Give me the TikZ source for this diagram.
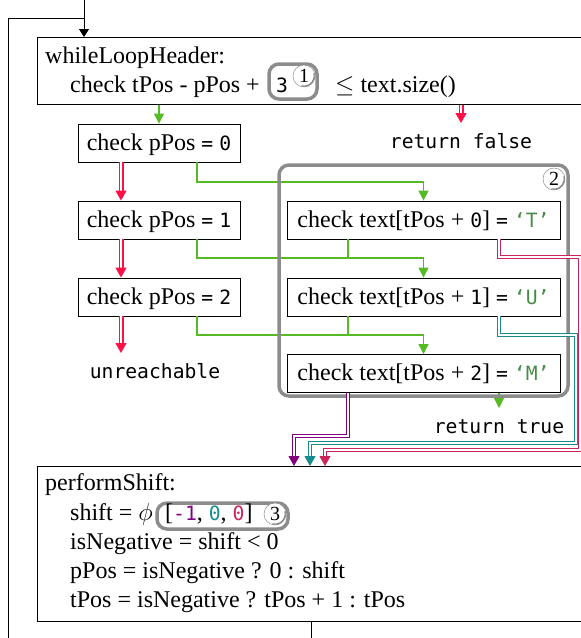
\documentclass[tikz,border=0pt]{standalone}
\usepackage{fontspec}
\setmainfont{Liberation Serif}
\newfontfamily\codefont[Scale=0.82]{DejaVu Sans Mono}
\usetikzlibrary{arrows.meta}

\definecolor{okGreen}{RGB}{86,186,36}
\definecolor{failRed}{RGB}{255,16,72}
\definecolor{failT}{RGB}{204,36,88}
\definecolor{failU}{RGB}{22,140,140}
\definecolor{failM}{RGB}{128,0,128}
\definecolor{charGreen}{RGB}{70,140,70}
\definecolor{markerGray}{RGB}{140,140,140}

\newcommand\cd[1]{{\codefont #1}}

\tikzset{
  every node/.style={font=\fontsize{24}{29}\selectfont},
  plain/.style={inner sep=0pt, anchor=base west},
  block/.style={draw, line width=0.9pt, anchor=north west, inner sep=0pt, minimum width=583pt},
  pbox/.style={draw, line width=0.9pt, minimum width=162pt, minimum height=38pt,
               text height=19pt, text depth=5pt, inner sep=0pt},
  tbox/.style={pbox, minimum width=273pt},
  term/.style={font=\fontsize{24}{29}\selectfont\codefont, text height=14pt, text depth=4pt,
               inner xsep=0pt, inner ysep=11pt, anchor=north},
  region/.style={draw=markerGray, line width=3.5pt, rounded corners=10pt},
  tag/.style={circle, draw=black!45, line width=0.5pt, fill=white, inner sep=0pt,
              minimum size=22pt, font=\fontsize{20}{20}\selectfont},
  tagshade/.style={draw=black!50, line width=1.1pt},
  okline/.style={draw=okGreen, line width=1.2pt},
  okarrow/.style={okline, -{Triangle[length=10pt, width=10pt]}},
  dbl/.style={line width=1pt, double=white, double distance=2.3pt,
              -{Triangle[length=10pt, width=11pt]}},
  faildbl/.style={dbl, draw=failRed, line width=1.2pt, double distance=2.6pt},
  flow/.style={line width=0.9pt},
}

\begin{document}
\begin{tikzpicture}[x=1pt, y=-1pt]
\useasboundingbox (0,0) rectangle (581,638);
\clip (0,0) rectangle (581,638);

% ---- loop header ----
\node[block, minimum height=67pt] (header) at (37,37) {};
\node[plain] (hTitle) at (45,63) {whileLoopHeader:};
\node[plain] (hCheck) at (70,92) {check tPos - pPos +};
\draw[region] (269,64) rectangle (317,99);
\node[plain, anchor=base] (hLen) at (282,92) {\cd{3}};
\node[tag] (tag1) at (304,76) {1};
\node[plain] (hBound) at (335,92) {$\leq$ text.size()};

% ---- pattern position checks ----
\node[pbox] (pp0) at (159,143) {check pPos \cd{=} \cd{0}};
\node[pbox] (pp1) at (159,220) {check pPos \cd{=} \cd{1}};
\node[pbox] (pp2) at (159,297) {check pPos \cd{=} \cd{2}};

% ---- text character checks ----
\node[tbox] (tx0) at (423.5,220) {check text[tPos + \cd{0}] \cd{=} \cd{\color{charGreen}‘T’}};
\node[tbox] (tx1) at (423.5,297) {check text[tPos + \cd{1}] \cd{=} \cd{\color{charGreen}‘U’}};
\node[tbox] (tx2) at (423.5,373.5) {check text[tPos + \cd{2}] \cd{=} \cd{\color{charGreen}‘M’}};

% ---- terminal results ----
\node[term] (rFalse) at (461,123) {return false};
\node[term] (unreach) at (155,353) {unreachable};
\node[term] (rTrue) at (499,408) {return true};

% ---- success edges ----
\coordinate (row1) at (0,182);
\coordinate (row2) at (0,258);
\coordinate (row3) at (0,335);
\coordinate (t0L) at ([xshift=-75.5]tx0.south);
\coordinate (t1L) at ([xshift=-75.5]tx1.south);
\coordinate (t2L) at ([xshift=-75.5]tx2.south);
\coordinate (t0R) at ([xshift=75.5]tx0.south);
\coordinate (t1R) at ([xshift=75.5]tx1.south);
\coordinate (t2R) at ([xshift=75.5]tx2.south);
\coordinate (p0T) at ([xshift=38]pp0.south);
\coordinate (p1T) at ([xshift=38]pp1.south);
\coordinate (p2T) at ([xshift=38]pp2.south);
\coordinate (p0F) at ([xshift=-38]pp0.south);
\coordinate (p1F) at ([xshift=-38]pp1.south);
\coordinate (p2F) at ([xshift=-38]pp2.south);

\draw[okarrow] (header.south -| pp0) -- (pp0.north);
\draw[okarrow] (p0T) |- (row1 -| tx0) -- (tx0.north);
\draw[okarrow] (p1T) |- (row2 -| tx1) -- (tx1.north);
\draw[okline] (t0L) -- (t0L |- row2);
\draw[okarrow] (p2T) |- (row3 -| tx2) -- (tx2.north);
\draw[okline] (t1L) -- (t1L |- row3);
\draw[okarrow] (t2R) -- (rTrue.north);

% ---- failure edges ----
\draw[faildbl] (header.south -| rFalse) -- (rFalse.north);
\draw[faildbl] (p0F) -- (p0F |- pp1.north);
\draw[faildbl] (p1F) -- (p1F |- pp2.north);
\draw[faildbl] (p2F) -- (p2F |- unreach.north);

% ---- marked region around the text checks ----
\draw[region] (279,165) rectangle (568,396);
\node[tag] (tag2) at (554,179) {2};

% ---- shift block ----
\node[block, minimum height=155pt] (shift) at (37,466) {};
\node[plain] (sTitle) at (45,490) {performShift:};
\node[plain] (sShift) at (70,520) {shift = $\phi$};
\draw[region] (157,503) rectangle (288,529);
\node[plain] (sVec) at (165,520) {[\cd{\color{failM}-1}, \cd{\color{failU}0}, \cd{\color{failT}0}]};
\node[tag] (tag3) at (275,514) {3};
\node[plain] (sNeg) at (70,549) {isNegative = shift < 0};
\node[plain] (sP) at (70,578) {pPos = isNegative ? 0 : shift};
\node[plain] (sT) at (70,607) {tPos = isNegative ? tPos + 1 : tPos};

% shading on the lower right of each numbered tag
\begin{scope}[y=1pt]
  \foreach \t in {tag1,tag2,tag3}
    \draw[tagshade] ([shift={(-105:10.2pt)}]\t.center) arc[start angle=-105, end angle=15, radius=10.2pt];
\end{scope}

% ---- mismatch edges into the shift block ----
\coordinate (inM) at (294,466);
\coordinate (inU) at (310,466);
\coordinate (inT) at (325,466);
\coordinate (railU) at (576,335);
\coordinate (railT) at (580,257);
\draw[dbl, draw=failM] (t2L) |- ([yshift=30]inM) -- (inM);
\draw[dbl, draw=failU] (t1R) |- (railU) |- ([yshift=23]inU) -- (inU);
\draw[dbl, draw=failT] (t0R) |- (railT) |- ([yshift=16]inT) -- (inT);

% ---- back edge of the loop ----
\coordinate (loopDown) at (311,660);
\coordinate (loopCorner) at (8,18);
\coordinate (loopTop) at (84,18);
\coordinate (entry) at (84,-20);
\draw[flow] (shift.south -| loopDown) -- (loopDown) -| (loopCorner) -- (loopTop);
\draw[flow, -{Triangle[length=8pt, width=10pt]}] (entry) -- (header.north -| entry);
\end{tikzpicture}
\end{document}
